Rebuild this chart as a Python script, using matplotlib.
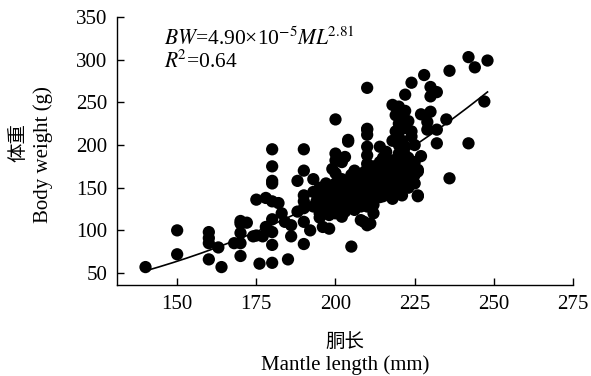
import numpy as np
import matplotlib
matplotlib.use("Agg")
import matplotlib.pyplot as plt

plt.rcParams['font.family'] = ['Liberation Serif', 'Noto Sans CJK SC', 'DejaVu Sans']
plt.rcParams['mathtext.fontset'] = 'stix'

# Mantle length (mm) and body weight (g)
ml_left = [140, 150, 150, 160, 160, 160, 160, 163, 164, 168, 170, 170, 170, 170, 170,
           172, 174, 175, 175, 176, 177, 178, 178]
bw_left = [57, 100, 72, 98, 91, 85, 66, 80, 57, 85, 111, 108, 97, 85, 70,
           109, 93, 136, 94, 61, 93, 138, 104]

ml_180 = [180, 180, 180, 180, 180, 180, 180, 180, 180, 182, 183, 184, 185, 186, 186,
          188, 188, 190, 190, 193, 190, 190, 190, 190, 190, 192, 194, 196, 198, 198]
bw_180 = [195, 175, 158, 155, 134, 113, 98, 83, 62, 132, 120, 110, 66, 106, 93,
          158, 122, 195, 170, 160, 141, 134, 126, 110, 84, 100, 134, 104, 102, 126]

ml_200 = [200, 200, 200, 200, 200, 200, 201, 202, 202, 204, 205, 206, 208, 210, 202, 209,
          204, 210, 199, 203]
bw_200 = [230, 190, 182, 167, 155, 143, 159, 116, 180, 204, 81, 124, 112, 106, 132, 110,
          206, 219, 172, 186]

ml_210 = [210, 210, 210, 210, 210, 210, 210, 212, 211, 214, 216, 214, 218, 218, 221]
bw_210 = [267, 218, 212, 198, 188, 178, 128, 120, 108, 198, 192, 139, 139, 137, 141]

ml_220 = [218, 220, 220, 219, 222, 222, 224, 224, 227, 229, 229, 230, 230, 232, 230, 232,
          235, 228, 236, 242, 244, 248, 247, 232, 242, 236, 222, 222, 227, 226, 226, 226,
          226, 223, 221, 219, 220, 221, 223, 224, 225, 218, 222, 220]
bw_220 = [247, 233, 225, 216, 259, 240, 273, 216, 236, 227, 218, 239, 268, 262, 257, 218,
          230, 282, 287, 303, 291, 299, 251, 202, 202, 161, 198, 188, 187, 171, 169, 141,
          140, 161, 151, 235, 215, 205, 228, 210, 200, 205, 220, 245]

ml_mid = [193, 193, 195, 195, 195, 195, 195, 197, 197, 197, 198, 198, 198,
          200, 200, 200, 200, 200, 202, 202, 202, 202, 203, 203, 203,
          205, 205, 205, 205, 205, 205, 206, 206, 206, 207, 207, 207,
          208, 208, 208, 208, 209, 209, 209,
          210, 210, 210, 210, 210, 210, 210, 210, 211, 211,
          212, 212, 212, 212, 212, 213, 213, 213, 214, 214, 214,
          215, 215, 215, 215, 215, 215, 216, 216, 217, 217, 217,
          218, 218, 218, 218, 218, 219, 219,
          220, 220, 220, 220, 220, 220, 220, 220, 222, 222, 222,
          223, 223, 224, 224, 225, 225, 225]
bw_mid = [145, 128, 150, 140, 132, 120, 115, 155, 138, 125, 148, 135, 118,
          150, 138, 130, 125, 120, 160, 145, 140, 128, 152, 135, 122,
          165, 158, 150, 142, 136, 130, 170, 145, 138, 155, 148, 132,
          162, 150, 140, 128, 168, 145, 135,
          172, 165, 160, 155, 150, 145, 140, 135, 158, 148,
          175, 165, 155, 145, 130, 168, 150, 142, 180, 160, 152,
          185, 172, 165, 158, 148, 140, 178, 155, 170, 162, 148,
          182, 175, 165, 155, 145, 170, 158,
          200, 190, 180, 172, 165, 160, 150, 145, 178, 168, 155,
          185, 150, 172, 160, 180, 165, 155]

fit_a = 4.90e-5
fit_b = 2.81
fit_range = (140, 248)

x_ticks = [150, 175, 200, 225, 250, 275]
y_ticks = [50, 100, 150, 200, 250, 300, 350]

ml = ml_left + ml_180 + ml_200 + ml_210 + ml_220 + ml_mid
bw = bw_left + bw_180 + bw_200 + bw_210 + bw_220 + bw_mid

fig = plt.figure(figsize=(5.91, 3.76), dpi=100)
ax = fig.add_axes([117/591, 1 - 285/376, (573 - 117)/591, (285 - 17)/376])

ax.scatter(ml, bw, s=78, color='black', edgecolors='none', zorder=2)
xf = np.linspace(fit_range[0], fit_range[1], 200)
ax.plot(xf, fit_a * xf ** fit_b, color='black', lw=1.2, zorder=3)

ax.set_xlim(131, 275)
ax.set_ylim(36, 350)
ax.set_xticks(x_ticks)
ax.set_yticks(y_ticks)
ax.tick_params(direction='in', length=5, width=1, labelsize=15, pad=7)
for s in ['top', 'right']:
    ax.spines[s].set_visible(False)
for s in ['left', 'bottom']:
    ax.spines[s].set_linewidth(1)

fig.text(345/591, 1 - 342/376, '胴长', ha='center', va='center', fontsize=14,
         family=['Noto Sans CJK SC', 'DejaVu Sans'])
fig.text(345/591, 1 - 365/376, 'Mantle length (mm)', ha='center', va='center', fontsize=15)
fig.text(18/591, 1 - 142/376, '体重', ha='center', va='center', fontsize=14, rotation=90,
         family=['Noto Sans CJK SC', 'DejaVu Sans'])
fig.text(43/591, 1 - 155/376, 'Body weight (g)', ha='center', va='center', fontsize=15,
         rotation=90)

fig.text(164/591, 1 - 39/376, r'$BW$=4.90×10$^{-5}$$ML$$^{2.81}$',
         fontsize=15.5, va='center')
fig.text(164/591, 1 - 62/376, r'$R$$^{2}$=0.64', fontsize=15.5, va='center')

fig.savefig('out.png', dpi=100)
